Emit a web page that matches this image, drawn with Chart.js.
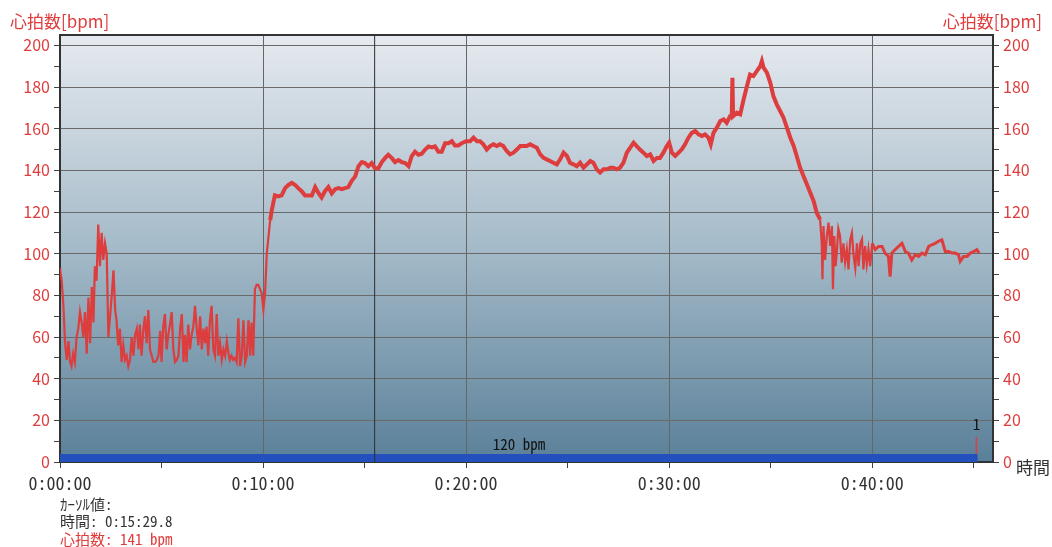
<!DOCTYPE html>
<html><head><meta charset="utf-8">
<script src="https://cdn.jsdelivr.net/npm/chart.js@4/dist/chart.umd.min.js"></script>
<style>html,body{margin:0;padding:0;background:#fff;overflow:hidden}#wrap{position:relative;width:1052px;height:547px}</style>
</head><body><div id="wrap"><canvas id="c" width="1052" height="547"></canvas></div>
<script>
// elapsed time in seconds
const timeSec = [
0,5,10,15,20,25,30,34,39,44,49,54,59,64,69,74,79,84,89,94,99,103,108,113,118,123,128,133,138,143,148,153,158,163,167,172,177,182,187,192,197,202,207,212,217,222,227,232,236,241,246,251,256,261,266,271,276,281,286,291,296,300,305,310,315,320,325,330,335,340,345,350,355,360,365,369,374,379,384,389,394,399,404,409,414,419,424,429,433,438,443,448,453,458,463,468,473,478,483,488,493,498,502,507,512,517,522,527,532,537,542,547,552,557,562,566,571,576,581,586,591,596,601,606,611,616,
621,626,631,635,645,655,665,675,685,695,704,714,724,734,744,754,764,773,783,793,803,813,823,833,842,852,862,872,882,892,901,911,921,931,941,951,961,970,980,990,1000,1010,1020,1030,1039,1049,1059,1069,1079,1089,1099,1108,1118,1128,1138,1148,1158,1167,1177,1187,1200,
1212,1222,1232,1241,1251,1261,1271,1281,1291,1300,1310,1320,1330,1340,1350,1360,1369,1379,1389,1399,1409,1419,1429,1438,1448,1458,1468,1478,1488,1498,1507,1517,1527,1537,1547,1557,1567,1576,1586,1596,1606,1616,1626,1635,1645,1655,1665,1675,1685,1695,1704,1714,1724,1734,1744,1754,1764,1773,1783,1793,1800,
1808,1818,1828,1837,1847,1857,1867,1877,1887,1897,1906,1916,1923,1931,1941,1951,1961,1970,1980,1985,1987,1989,2000,2010,2020,2030,2039,2049,2059,2069,2074,2079,2089,2099,2108,2118,2128,2138,2148,2158,2168,2177,2187,2197,2207,2217,2227,2236,2246,2251,2253,2256,2261,2266,2271,2276,2281,2284,2288,2292,2296,2300,2305,2310,2315,2320,2325,2330,2335,2340,2345,2350,2355,2360,2365,2370,2374,2379,2384,2389,2394,2400,
2409,2419,2429,2438,2448,2453,2458,2468,2478,2488,2498,2507,2517,2527,2537,2547,2557,2567,2576,2586,2596,2606,2616,2626,2636,2645,2655,2660,2670,2680,2690,2700,2709,2716
];
// heart rate [bpm]
const heartRate = [
93,87,75,57,49,58,48,46,52,48,60,64,72,67,60,72,52,79,57,84,67,94,87,114,94,110,97,105,100,60,70,80,92,73,68,56,64,48,56,49,51,46,49,60,51,61,64,54,66,51,63,70,57,73,54,51,48,48,49,51,63,48,65,71,54,61,66,72,54,48,49,51,64,71,48,61,48,66,54,61,65,75,64,56,70,54,64,57,65,51,68,75,54,51,71,51,57,49,54,51,58,52,49,51,49,50,48,69,46,51,68,48,51,68,51,67,51,83,85,85,83,81,73,81,100,108,
116,121,125,128,127.5,128,131.5,133,134,133,131.5,130,128,128,128,132,129,127,130,132,129,131,131.5,131,131.5,132,135,137,142,144,143.5,142,143.5,141,141,144,146,147.5,146,144,145,144,143.5,142,146.7,149,147.5,148,150,151.5,151,151.5,149,149,153,153,154,152,152,153,154,
154,155.7,154,154,152.5,150,151.7,152.5,151.7,152.5,151.7,149.3,147.7,148.5,150,151.7,151.7,151.7,152.5,151.7,150.9,147.7,146,145.3,144.5,143.7,142.9,145.3,148.5,146.9,143.7,142.9,142,143.7,141.3,142.9,144.5,143.7,140.5,139,140.5,140.5,141.3,141.3,140.5,141.3,143.7,148.5,150.9,153.3,151.7,150,148.5,146.9,147.7,144.5,146,146,148.5,151.7,153.3,
148.5,146.9,148.5,150,152.5,155.7,158,158.9,157.3,156.5,157.3,155.7,152.5,158,160.5,163.7,164.5,162.9,166,166,184.5,166,167.7,166.9,174,180.5,186,185.3,187.7,190,192.5,189.3,186.9,182,175.7,171.7,168.5,165.3,160.5,155.7,151.7,146.9,141.3,137.3,133.3,129.3,125.3,119.7,116.5,105,87.7,113.3,97,108.5,114.9,103.7,113.3,82.9,108.5,94,102,112,108.5,95.7,105,96,102,92.5,106.6,110,98.9,93,105,94,105,107,92.5,103.7,95,102,94,105,
102,103.5,103.5,100.3,98.7,89,100.3,102,103.5,105,101,100.3,97,99.5,98.7,100.3,99.5,103.5,104.3,105,106,106.7,101,101,100.3,100.3,99.5,96.3,98.7,98.7,100.3,101,102,100.3
];
const yTickValues = [0,10,20,30,40,50,60,70,80,90,100,110,120,130,140,150,160,170,180,190,200];
const xTickValues = [0,300,600,900,1200,1500,1800,2100,2400,2700];
const zoneLabels = ['120 bpm'];
const zoneEnds = [2712];
const zoneHeight = 3.8;
const lapTimes = [2708];
const lapNames = ['1'];
const cursorTime = 929.8;
const cursorLines = ['ｶｰｿﾙ値:', '時間: 0:15:29.8', '心拍数: 141 bpm'];
const yTitle = '心拍数[bpm]';
const xTitle = '時間';

const RED = '#e03c3c';
const MONO = "'Noto Sans Mono CJK JP','DejaVu Sans Mono',monospace";
const SANS = "'Noto Sans CJK JP','Noto Sans',sans-serif";

function fmt(v){const h=Math.floor(v/3600),m=Math.floor((v%3600)/60),s=Math.round(v%60);return h+':'+String(m).padStart(2,'0')+':'+String(s).padStart(2,'0');}

const bgPlugin = {
  id:'bg',
  beforeDraw(chart){
    const {ctx, chartArea:a} = chart;
    const g = ctx.createLinearGradient(0,a.top,0,a.bottom);
    g.addColorStop(0,'#e6eaf0');
    g.addColorStop(0.5,'#a4bac8');
    g.addColorStop(1,'#5a8099');
    ctx.save(); ctx.fillStyle=g; ctx.fillRect(a.left,a.top,a.right-a.left,a.bottom-a.top); ctx.restore();
  },
  afterDatasetsDraw(chart){
    const {ctx, scales:{x,y}} = chart;
    ctx.save();
    ctx.fillStyle='#111'; ctx.textAlign='center'; ctx.textBaseline='middle';
    ctx.font = '15px '+MONO;
    zoneEnds.forEach((e,i)=>{ ctx.fillText(zoneLabels[i], x.getPixelForValue(e/2), y.getPixelForValue(zoneHeight)-10); });
    lapTimes.forEach((t,i)=>{ ctx.fillText(lapNames[i], x.getPixelForValue(t), y.getPixelForValue(18)); });
    ctx.restore();
  },
  afterDraw(chart){
    const {ctx, chartArea:a} = chart;
    ctx.save();
    ctx.strokeStyle='#333'; ctx.lineWidth=2;
    ctx.beginPath(); ctx.moveTo(a.left,a.top); ctx.lineTo(a.right,a.top); ctx.stroke();
    ctx.font='17px '+SANS; ctx.fillStyle=RED; ctx.textBaseline='middle';
    ctx.textAlign='left'; ctx.fillText(yTitle,10,22);
    ctx.textAlign='right'; ctx.fillText(yTitle,1042,22);
    ctx.fillStyle='#333'; ctx.textAlign='left'; ctx.fillText(xTitle,1016,468);
    ctx.font='15px '+MONO;
    cursorLines.forEach((s,i)=>{ ctx.fillStyle = i===2?RED:'#333'; ctx.fillText(s,60,504+i*17.5); });
    ctx.restore();
  }
};

const yCommon = {
  type:'linear', min:0, max:205,
  afterBuildTicks:s=>{ s.ticks = yTickValues.map(v=>({value:v})); },
  ticks:{autoSkip:false, color:RED, font:{size:16, family:SANS}, padding:4, callback:v=> v%20===0 ? String(v) : ''},
  border:{display:true,color:'#333',width:2}
};

new Chart(document.getElementById('c'), {
  type:'line',
  data:{datasets:[
    {label:'hr', data: timeSec.map((t,i)=>({x:t,y:heartRate[i]})), borderColor:'#dd3d3d', borderWidth:2.5, pointRadius:0, tension:0, order:0, yAxisID:'y',
     segment:{borderWidth: c => (c.p0.parsed.x>=621 && c.p0.parsed.x<2246) ? 4 : (c.p0.parsed.x>=2400 ? 3 : 2.2)}},
    {label:'cursor', data:[{x:cursorTime,y:0},{x:cursorTime,y:205}], borderColor:'#2e2e2e', borderWidth:1, pointRadius:0, order:1, yAxisID:'y'},
    {label:'lap', data:[{x:lapTimes[0],y:zoneHeight},{x:lapTimes[0],y:12}], borderColor:'#e03c3c', borderWidth:1.5, pointRadius:0, order:1, yAxisID:'y'},
    {label:'zone', data:[{x:0,y:zoneHeight},{x:zoneEnds[0],y:zoneHeight}], borderWidth:0, borderColor:'rgba(0,0,0,0)', backgroundColor:'#2450bd', fill:'origin', pointRadius:0, order:2, yAxisID:'y'}
  ]},
  options:{
    responsive:false, animation:false, devicePixelRatio:1,
    layout:{padding:{top:35,left:0,right:0,bottom:0}},
    plugins:{legend:{display:false}, tooltip:{enabled:false}},
    scales:{
      x:{type:'linear', min:0, max:2757,
        afterBuildTicks:s=>{ s.ticks = xTickValues.map(v=>({value:v})); },
        afterFit:s=>{ s.height = 85; },
        ticks:{autoSkip:false, maxRotation:0, color:'#333', font:{size:18, family:MONO}, padding:4, callback:v=> v%600===0 ? fmt(v) : ''},
        grid:{color:c=> (c.tick && c.tick.value%600===0 && c.tick.value>0) ? '#666' : 'rgba(0,0,0,0)', tickColor:'#444', tickLength:6, lineWidth:1},
        border:{display:true,color:'#333',width:2}
      },
      y:Object.assign({}, yCommon, {position:'left',
        afterFit:s=>{ s.width = 60; },
        grid:{color:c=> (c.tick && c.tick.value%20===0 && c.tick.value>0) ? '#6a6a6a' : 'rgba(0,0,0,0)', tickColor:'#444', tickLength:6, lineWidth:1}}),
      y2:Object.assign({}, yCommon, {position:'right',
        afterFit:s=>{ s.width = 59; },
        grid:{drawOnChartArea:false, tickColor:'#444', tickLength:6}})
    }
  },
  plugins:[bgPlugin]
});
</script></body></html>
